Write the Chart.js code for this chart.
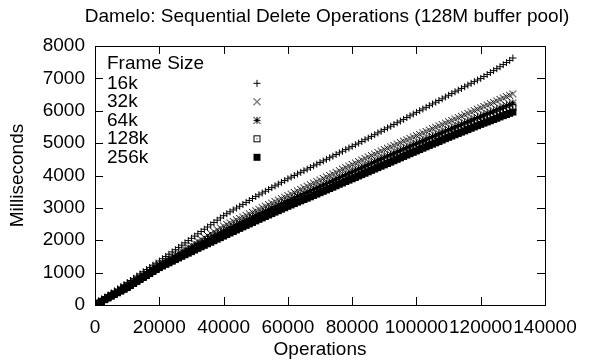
<!DOCTYPE html>
<html>
<head>
<meta charset="utf-8">
<script src="https://cdn.jsdelivr.net/npm/chart.js@4/dist/chart.umd.min.js"></script>
<style>
  html, body { margin: 0; padding: 0; background: #fff; }
</style>
</head>
<body>
<canvas id="deleteChart" width="591" height="362"></canvas>
<script>
// operations (x), one reading every 1000 ops
const ops = [
  0, 1000, 2000, 3000, 4000, 5000, 6000, 7000, 8000, 9000,
  10000, 11000, 12000, 13000, 14000, 15000, 16000, 17000, 18000, 19000,
  20000, 21000, 22000, 23000, 24000, 25000, 26000, 27000, 28000, 29000,
  30000, 31000, 32000, 33000, 34000, 35000, 36000, 37000, 38000, 39000,
  40000, 41000, 42000, 43000, 44000, 45000, 46000, 47000, 48000, 49000,
  50000, 51000, 52000, 53000, 54000, 55000, 56000, 57000, 58000, 59000,
  60000, 61000, 62000, 63000, 64000, 65000, 66000, 67000, 68000, 69000,
  70000, 71000, 72000, 73000, 74000, 75000, 76000, 77000, 78000, 79000,
  80000, 81000, 82000, 83000, 84000, 85000, 86000, 87000, 88000, 89000,
  90000, 91000, 92000, 93000, 94000, 95000, 96000, 97000, 98000, 99000,
  100000, 101000, 102000, 103000, 104000, 105000, 106000, 107000, 108000, 109000,
  110000, 111000, 112000, 113000, 114000, 115000, 116000, 117000, 118000, 119000,
  120000, 121000, 122000, 123000, 124000, 125000, 126000, 127000, 128000, 129000,
  130000];

// milliseconds per frame size
const ms16k = [
  0, 70, 140, 210, 280, 350, 420, 488, 555, 622,
  690, 758, 825, 892, 960, 1028, 1095, 1162, 1230, 1295,
  1360, 1430, 1500, 1570, 1640, 1710, 1780, 1850, 1920, 1990,
  2060, 2130, 2200, 2270, 2340, 2410, 2480, 2550, 2620, 2690,
  2760, 2820, 2880, 2938, 2995, 3052, 3110, 3170, 3230, 3290,
  3350, 3405, 3460, 3515, 3570, 3625, 3680, 3735, 3790, 3845,
  3900, 3950, 4000, 4050, 4100, 4150, 4200, 4250, 4300, 4350,
  4400, 4450, 4500, 4550, 4600, 4650, 4700, 4750, 4800, 4850,
  4900, 4950, 5000, 5052, 5105, 5158, 5210, 5262, 5315, 5368,
  5420, 5472, 5525, 5578, 5630, 5682, 5735, 5790, 5845, 5898,
  5950, 6002, 6055, 6108, 6160, 6212, 6265, 6318, 6370, 6425,
  6480, 6532, 6585, 6638, 6690, 6742, 6795, 6848, 6900, 6950,
  7000, 7060, 7120, 7180, 7240, 7300, 7360, 7425, 7490, 7555,
  7630];

const ms32k = [
  0, 62, 125, 188, 250, 312, 375, 435, 495, 558,
  620, 682, 745, 808, 870, 932, 995, 1060, 1125, 1188,
  1250, 1310, 1370, 1430, 1490, 1550, 1610, 1670, 1730, 1790,
  1850, 1910, 1970, 2030, 2090, 2148, 2205, 2265, 2325, 2382,
  2440, 2488, 2535, 2582, 2630, 2675, 2720, 2768, 2815, 2862,
  2910, 2958, 3005, 3052, 3100, 3148, 3195, 3240, 3285, 3332,
  3380, 3428, 3475, 3522, 3570, 3620, 3670, 3718, 3765, 3812,
  3860, 3908, 3955, 4002, 4050, 4100, 4150, 4198, 4245, 4292,
  4340, 4385, 4430, 4478, 4525, 4570, 4615, 4662, 4710, 4755,
  4800, 4842, 4885, 4928, 4970, 5015, 5060, 5102, 5145, 5188,
  5230, 5272, 5315, 5358, 5400, 5445, 5490, 5532, 5575, 5618,
  5660, 5702, 5745, 5788, 5830, 5875, 5920, 5962, 6005, 6048,
  6090, 6132, 6175, 6218, 6260, 6305, 6350, 6392, 6435, 6478,
  6520];

const ms64k = [
  0, 59, 118, 176, 235, 294, 352, 407, 462, 521,
  580, 642, 705, 768, 830, 891, 952, 1016, 1080, 1141,
  1202, 1257, 1312, 1367, 1422, 1477, 1532, 1587, 1642, 1696,
  1750, 1805, 1860, 1914, 1968, 2020, 2072, 2126, 2180, 2232,
  2285, 2332, 2380, 2428, 2475, 2522, 2568, 2614, 2660, 2708,
  2755, 2802, 2848, 2894, 2940, 2986, 3032, 3077, 3122, 3168,
  3215, 3260, 3305, 3350, 3395, 3440, 3485, 3530, 3575, 3620,
  3665, 3710, 3755, 3800, 3845, 3892, 3940, 3985, 4030, 4075,
  4120, 4164, 4208, 4253, 4298, 4343, 4388, 4433, 4478, 4522,
  4565, 4608, 4650, 4692, 4735, 4780, 4825, 4868, 4910, 4952,
  4995, 5038, 5080, 5122, 5165, 5208, 5250, 5292, 5335, 5378,
  5420, 5461, 5502, 5544, 5585, 5628, 5670, 5711, 5752, 5794,
  5835, 5875, 5915, 5955, 5995, 6038, 6080, 6120, 6160, 6200,
  6240];

const ms128k = [
  0, 57, 114, 171, 228, 285, 341, 393, 446, 503,
  560, 622, 685, 748, 810, 870, 931, 995, 1058, 1118,
  1178, 1231, 1284, 1336, 1388, 1441, 1494, 1546, 1598, 1649,
  1700, 1752, 1805, 1856, 1906, 1956, 2006, 2057, 2108, 2158,
  2208, 2255, 2302, 2350, 2398, 2445, 2492, 2537, 2582, 2630,
  2678, 2724, 2769, 2814, 2860, 2906, 2951, 2996, 3041, 3086,
  3132, 3176, 3220, 3264, 3308, 3350, 3392, 3436, 3480, 3524,
  3568, 3612, 3655, 3698, 3742, 3788, 3835, 3878, 3922, 3966,
  4010, 4053, 4096, 4140, 4184, 4229, 4274, 4318, 4362, 4405,
  4448, 4490, 4532, 4575, 4618, 4663, 4708, 4750, 4792, 4835,
  4878, 4920, 4962, 5005, 5048, 5089, 5130, 5172, 5215, 5258,
  5300, 5340, 5381, 5422, 5462, 5504, 5545, 5586, 5626, 5667,
  5708, 5746, 5785, 5824, 5862, 5904, 5945, 5984, 6022, 6061,
  6100];

const ms256k = [
  0, 55, 110, 165, 220, 275, 330, 380, 430, 485,
  540, 602, 665, 728, 790, 850, 910, 972, 1035, 1095,
  1155, 1205, 1255, 1305, 1355, 1405, 1455, 1505, 1555, 1602,
  1650, 1700, 1750, 1798, 1845, 1892, 1940, 1988, 2035, 2082,
  2130, 2178, 2225, 2272, 2320, 2368, 2415, 2460, 2505, 2552,
  2600, 2645, 2690, 2735, 2780, 2825, 2870, 2915, 2960, 3005,
  3050, 3092, 3135, 3178, 3220, 3260, 3300, 3342, 3385, 3428,
  3470, 3512, 3555, 3598, 3640, 3685, 3730, 3772, 3815, 3858,
  3900, 3942, 3985, 4028, 4070, 4115, 4160, 4202, 4245, 4288,
  4330, 4372, 4415, 4458, 4500, 4545, 4590, 4632, 4675, 4718,
  4760, 4802, 4845, 4888, 4930, 4970, 5010, 5052, 5095, 5138,
  5180, 5220, 5260, 5300, 5340, 5380, 5420, 5460, 5500, 5540,
  5580, 5618, 5655, 5692, 5730, 5770, 5810, 5848, 5885, 5922,
  5960];

const frameSizes = ["16k", "32k", "64k", "128k", "256k"];
const xTickValues = [0, 20000, 40000, 60000, 80000, 100000, 120000, 140000];
const yTickValues = [0, 1000, 2000, 3000, 4000, 5000, 6000, 7000, 8000];
const chartTitle = "Damelo: Sequential Delete Operations (128M buffer pool)";

const FONT = "Liberation Sans, Arial, Helvetica, sans-serif";
const FONT_SIZE = 19;

// gnuplot style point marks, drawn once on small canvases
function makeMark(kind) {
  const c = document.createElement("canvas");
  c.width = 9;
  c.height = 9;
  const g = c.getContext("2d");
  g.fillStyle = "#000";
  g.strokeStyle = "#000";
  g.lineWidth = 1;
  const plus = () => { g.fillRect(1, 4, 7, 1); g.fillRect(4, 1, 1, 7); };
  const times = () => {
    g.beginPath();
    g.moveTo(1, 1); g.lineTo(8, 8);
    g.moveTo(8, 1); g.lineTo(1, 8);
    g.stroke();
  };
  if (kind === "plus") plus();
  if (kind === "times") times();
  if (kind === "star") { plus(); times(); }
  if (kind === "boxdot") { g.strokeRect(1.5, 1.5, 6, 6); g.fillRect(4, 4, 1, 1); }
  if (kind === "box") g.fillRect(1, 1, 7, 7);
  return c;
}

const marks = ["plus", "times", "star", "boxdot", "box"].map(makeMark);
const seriesValues = [ms16k, ms32k, ms64k, ms128k, ms256k];

const datasets = frameSizes.map((name, i) => ({
  label: name,
  data: ops.map((x, j) => ({ x: x, y: seriesValues[i][j] })),
  pointStyle: marks[i],
  pointRadius: 4.5,
  pointHoverRadius: 4.5,
  showLine: false,
  // later sizes end up on top, like gnuplot
  order: frameSizes.length - i
}));

// title, border, inward ticks on all four sides, and the key
const gnuplotFrame = {
  id: "gnuplotFrame",
  afterDraw(chart) {
    const ctx = chart.ctx;
    const a = chart.chartArea;
    const xs = chart.scales.x;
    const ys = chart.scales.y;
    const tick = 8;
    ctx.save();
    ctx.strokeStyle = "#000";
    ctx.lineWidth = 1;
    ctx.beginPath();
    xTickValues.forEach(v => {
      const px = Math.round(xs.getPixelForValue(v)) + 0.5;
      ctx.moveTo(px, a.bottom); ctx.lineTo(px, a.bottom - tick);
      ctx.moveTo(px, a.top); ctx.lineTo(px, a.top + tick);
    });
    yTickValues.forEach(v => {
      const py = Math.round(ys.getPixelForValue(v)) + 0.5;
      ctx.moveTo(a.left, py); ctx.lineTo(a.left + tick, py);
      ctx.moveTo(a.right, py); ctx.lineTo(a.right - tick, py);
    });
    ctx.stroke();
    ctx.strokeRect(Math.round(a.left) + 0.5, Math.round(a.top) + 0.5,
      Math.round(a.right - a.left), Math.round(a.bottom - a.top));

    ctx.fillStyle = "#000";
    ctx.font = FONT_SIZE + "px " + FONT;
    ctx.textBaseline = "middle";

    // title sits a bit right of the canvas centre, as in gnuplot
    ctx.textAlign = "center";
    ctx.fillText(chartTitle, 327, 17);

    // key
    ctx.textAlign = "left";
    ctx.fillText("Frame Size", a.left + 12, a.top + 18);
    frameSizes.forEach((name, i) => {
      const y = a.top + 37.3 + i * 18.5;
      ctx.fillText(name, a.left + 12, y);
      ctx.drawImage(marks[i], a.left + 162 - 4.5, y - 4.5);
    });
    ctx.restore();
  }
};

const ctx = document.getElementById("deleteChart").getContext("2d");
new Chart(ctx, {
  type: "scatter",
  data: { datasets: datasets },
  options: {
    responsive: false,
    animation: false,
    events: [],
    layout: { padding: { left: 0, right: 46, top: 46, bottom: 0 } },
    plugins: {
      legend: { display: false },
      tooltip: { enabled: false },
      title: { display: false }
    },
    scales: {
      x: {
        type: "linear",
        min: 0,
        max: 140000,
        afterFit: s => { s.height = 57; },
        afterBuildTicks: s => { s.ticks = xTickValues.map(v => ({ value: v })); },
        grid: { display: false, drawTicks: false },
        border: { display: false },
        ticks: {
          autoSkip: false,
          maxRotation: 0,
          padding: 11,
          color: "#000",
          font: { family: FONT, size: FONT_SIZE },
          callback: v => String(v)
        },
        title: {
          display: true,
          text: "Operations",
          color: "#000",
          font: { family: FONT, size: FONT_SIZE },
          padding: { top: 0, bottom: 1 }
        }
      },
      y: {
        type: "linear",
        min: 0,
        max: 8000,
        afterFit: s => { s.width = 95; },
        afterBuildTicks: s => { s.ticks = yTickValues.map(v => ({ value: v })); },
        grid: { display: false, drawTicks: false },
        border: { display: false },
        ticks: {
          autoSkip: false,
          padding: 10,
          color: "#000",
          font: { family: FONT, size: FONT_SIZE },
          callback: v => String(v)
        },
        title: {
          display: true,
          text: "Milliseconds",
          color: "#000",
          font: { family: FONT, size: FONT_SIZE },
          padding: { top: 6, bottom: 0 }
        }
      }
    }
  },
  plugins: [gnuplotFrame]
});
</script>
</body>
</html>
